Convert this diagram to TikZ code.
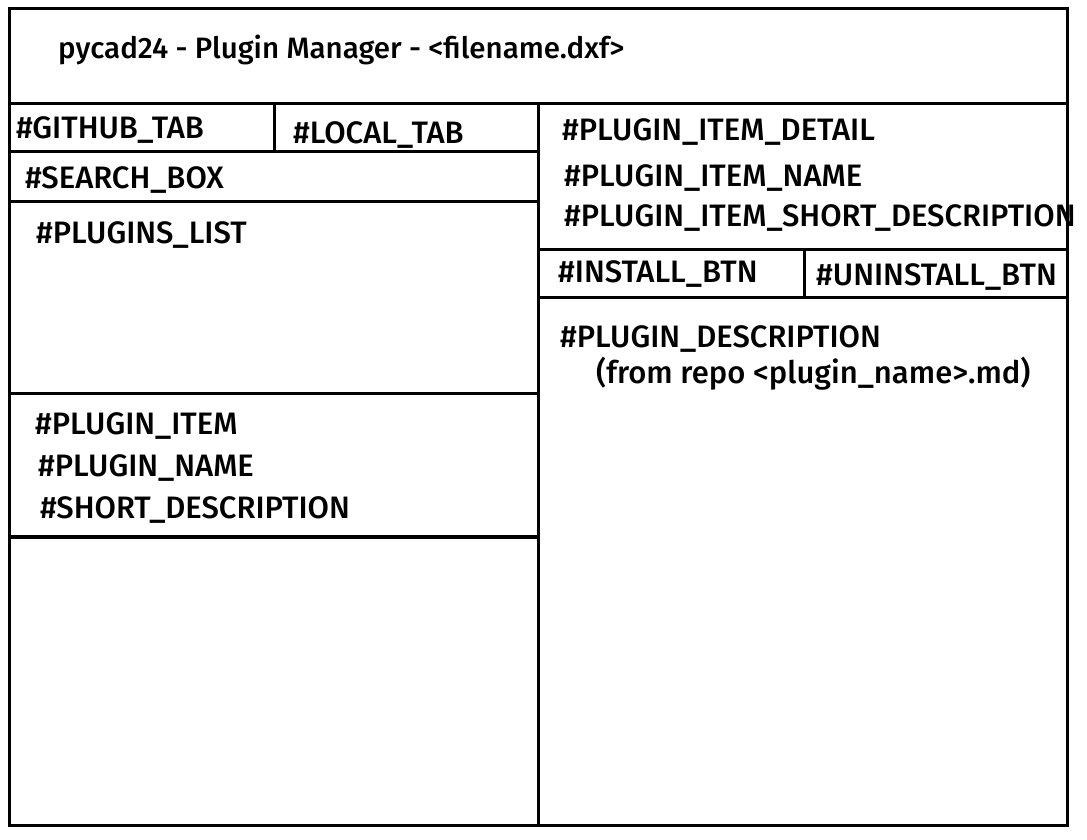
\documentclass[tikz,border=0pt]{standalone}
\usepackage{fontspec}
\setmainfont{Fira Sans}[UprightFont={* Medium}]
\usepackage{tikz}

\begin{document}
\begin{tikzpicture}[x=1pt,y=-1pt,
        frame/.style={line width=3pt},
        label/.style={anchor=base west, inner sep=0pt, font=\fontsize{31}{34}\selectfont}]
        \useasboundingbox (0,0) rectangle (1087,840);

        % Draw the window frame
        \draw[frame] (9,9) rectangle (1067,825);

        % Title bar and the split between left and right panes
        \draw[frame] (9,104) -- (1067,104);
        \draw[frame] (538,104) -- (538,825);

        % Left pane: tabs, search box, list, item
        \draw[frame] (9,152) -- (538,152);
        \draw[frame] (274,104) -- (274,152);
        \draw[frame] (9,201) -- (538,201);
        \draw[frame] (9,393) -- (538,393);
        \draw[line width=4pt] (9,537) -- (538,537);

        % Right pane: item detail and buttons
        \draw[frame] (538,249) -- (1067,249);
        \draw[frame] (804,249) -- (804,297);
        \draw[frame] (538,297) -- (1067,297);

        % Label the title
        \node[label, font=\fontsize{29.5}{34}\selectfont] (title) at (58,59) {pycad24 - Plugin Manager - <filename.dxf>};

        % Label the left pane
        \node[label] (github) at (16,139) {\#GITHUB\_TAB};
        \node[label] (local) at (293,144) {\#LOCAL\_TAB};
        \node[label] (search) at (25,189) {\#SEARCH\_BOX};
        \node[label] (list) at (36,243) {\#PLUGINS\_LIST};
        \node[label] (item) at (35,434) {\#PLUGIN\_ITEM};
        \node[label] (name) at (38,476) {\#PLUGIN\_NAME};
        \node[label] (short) at (40,518) {\#SHORT\_DESCRIPTION};

        % Label the right pane
        \node[label] (detail) at (562,141) {\#PLUGIN\_ITEM\_DETAIL};
        \node[label] (dname) at (564,186) {\#PLUGIN\_ITEM\_NAME};
        \node[label] (dshort) at (564,226) {\#PLUGIN\_ITEM\_SHORT\_DESCRIPTION};
        \node[label] (install) at (558,282) {\#INSTALL\_BTN};
        \node[label] (uninstall) at (816,285) {\#UNINSTALL\_BTN};
        \node[label] (descr) at (560,347) {\#PLUGIN\_DESCRIPTION};
        \node[label] (repo) at (596,383) {(from repo <plugin\_name>.md)};
    \end{tikzpicture}
\end{document}
